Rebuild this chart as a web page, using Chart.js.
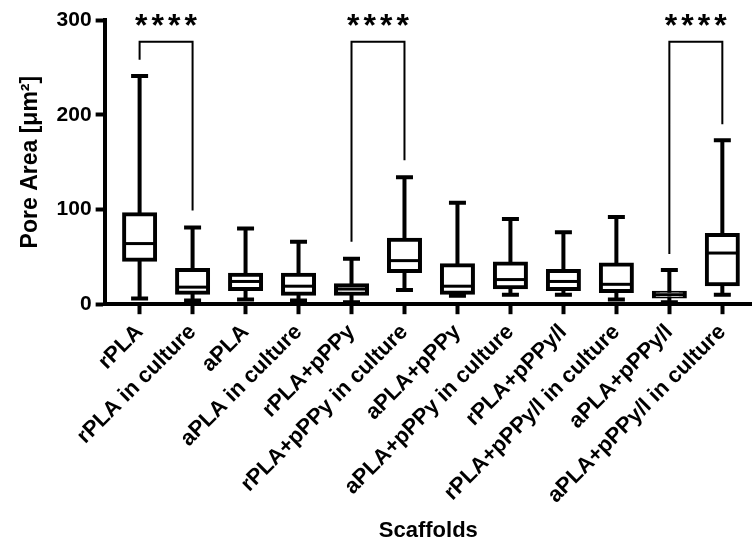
<!DOCTYPE html>
<html>
<head>
<meta charset="utf-8">
<script src="https://cdn.jsdelivr.net/npm/chart.js@4.4.1/dist/chart.umd.min.js"></script>
<style>
  body { margin: 0; background: #fff; }
</style>
</head>
<body>
<canvas id="chart" width="752" height="544"></canvas>
<script>
const categories = ['rPLA', 'rPLA in culture', 'aPLA', 'aPLA in culture', 'rPLA+pPPy', 'rPLA+pPPy in culture',
  'aPLA+pPPy', 'aPLA+pPPy in culture', 'rPLA+pPPy/l', 'rPLA+pPPy/l in culture', 'aPLA+pPPy/l', 'aPLA+pPPy/l in culture'];
const mins    = [6, 4, 5, 4, 2, 15, 9, 10, 10, 5, 2, 10];
const q1s     = [47, 12, 16, 11, 11, 35, 12, 18, 16, 14, 8, 21];
const medians = [64, 18, 24, 19, 16, 46, 19, 26, 24, 21, 10, 54];
const q3s     = [95, 36, 31, 31, 20, 68, 41, 43, 35, 42, 12, 73];
const maxs    = [241, 81, 80, 66, 48, 134, 107, 90, 76, 92, 36, 173];

// significance brackets: pair of groups, leg ends, bar height
const sigPairs = [[0, 1], [4, 5], [10, 11]];
const sigLeftEnds = [258, 66, 53];
const sigRightEnds = [99, 152, 190];
const sigLevel = 277;
const sigText = '****';

const FONT = "'Liberation Sans', Arial, sans-serif";

const boxPlugin = {
  id: 'boxExtras',
  afterDatasetsDraw(chart) {
    const ctx = chart.ctx;
    const x = chart.scales.x, y = chart.scales.y;
    ctx.save();
    ctx.strokeStyle = '#000';
    ctx.lineCap = 'butt';
    // whiskers and medians
    categories.forEach((c, i) => {
      const px = x.getPixelForValue(i);
      ctx.lineWidth = 4;
      ctx.beginPath();
      ctx.moveTo(px, y.getPixelForValue(q3s[i]));
      ctx.lineTo(px, y.getPixelForValue(maxs[i]));
      ctx.moveTo(px, y.getPixelForValue(q1s[i]));
      ctx.lineTo(px, y.getPixelForValue(mins[i]));
      ctx.moveTo(px - 8.5, y.getPixelForValue(maxs[i]));
      ctx.lineTo(px + 8.5, y.getPixelForValue(maxs[i]));
      ctx.moveTo(px - 8.5, y.getPixelForValue(mins[i]));
      ctx.lineTo(px + 8.5, y.getPixelForValue(mins[i]));
      ctx.stroke();
      ctx.lineWidth = 3;
      ctx.beginPath();
      ctx.moveTo(px - 15, y.getPixelForValue(medians[i]));
      ctx.lineTo(px + 15, y.getPixelForValue(medians[i]));
      ctx.stroke();
    });
    // brackets
    ctx.lineWidth = 2;
    ctx.fillStyle = '#000';
    ctx.font = 'bold 32px ' + FONT;
    ctx.textAlign = 'center';
    ctx.textBaseline = 'alphabetic';
    sigPairs.forEach((p, k) => {
      const xl = x.getPixelForValue(p[0]), xr = x.getPixelForValue(p[1]);
      const yt = y.getPixelForValue(sigLevel);
      ctx.beginPath();
      ctx.moveTo(xl, y.getPixelForValue(sigLeftEnds[k]));
      ctx.lineTo(xl, yt);
      ctx.lineTo(xr, yt);
      ctx.lineTo(xr, y.getPixelForValue(sigRightEnds[k]));
      ctx.stroke();
      const cx = (xl + xr) / 2;
      for (let s = 0; s < sigText.length; s++) {
        ctx.fillText(sigText[s], cx + (s - (sigText.length - 1) / 2) * 16.5, yt - 6);
      }
    });
    ctx.restore();
  }
};

new Chart(document.getElementById('chart'), {
  type: 'bar',
  data: {
    datasets: [{
      data: categories.map((c, i) => ({ x: i, y: [q1s[i], q3s[i]] })),
      backgroundColor: '#fff',
      borderColor: '#000',
      borderWidth: 4,
      borderSkipped: false,
      inflateAmount: 2,
      barThickness: 31
    }]
  },
  options: {
    responsive: false,
    animation: false,
    layout: { padding: { top: 20, right: 0, left: 13, bottom: 0 } },
    plugins: { legend: { display: false }, tooltip: { enabled: false } },
    scales: {
      x: {
        type: 'linear',
        offset: false,
        min: -0.66,
        max: 11.56,
        afterBuildTicks: s => { s.ticks = categories.map((c, i) => ({ value: i })); },
        ticks: {
          callback: v => categories[v],
          minRotation: 45,
          maxRotation: 45,
          autoSkip: false,
          color: '#000',
          padding: 5,
          font: { family: FONT, size: 22, weight: 'bold' }
        },
        grid: { offset: false, drawOnChartArea: false, tickLength: 10, tickWidth: 4, tickColor: '#000' },
        border: { width: 4, color: '#000' },
        title: { display: true, text: 'Scaffolds', color: '#000', font: { family: FONT, size: 22, weight: 'bold' }, padding: { top: 4, bottom: 0 } }
      },
      y: {
        min: 0,
        max: 300,
        ticks: { stepSize: 100, color: '#000', padding: 4, font: { family: FONT, size: 21, weight: 'bold' } },
        grid: { drawOnChartArea: false, tickLength: 9, tickWidth: 4, tickColor: '#000' },
        border: { width: 4, color: '#000' },
        title: { display: true, text: 'Pore Area [μm²]', color: '#000', font: { family: FONT, size: 23, weight: 'bold' }, padding: { bottom: 8 } }
      }
    }
  },
  plugins: [boxPlugin]
});
</script>
</body>
</html>
